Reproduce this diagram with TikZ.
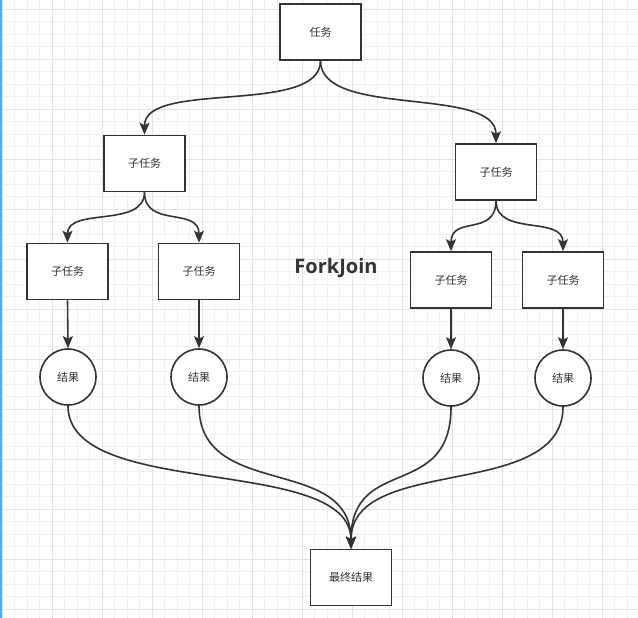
\documentclass[tikz,border=0pt]{standalone}
\usepackage{fontspec}
\newfontfamily\cjk{Noto Sans CJK SC}
\newfontfamily\titlefont{Open Sans}
\usepackage{tikz}
\usetikzlibrary{arrows.meta,positioning,calc}
\usepackage{xcolor}
\definecolor{ink}{HTML}{333333}
\definecolor{gridminor}{HTML}{F1F1F1}
\definecolor{gridmajor}{HTML}{E3E3E3}
\definecolor{edgeblue}{HTML}{5AA9E6}
\tikzset{
  block/.style   = {draw=ink, fill=white, line width=1.6pt, rectangle, minimum width=81pt,
                    minimum height=56pt, align=center, text=ink,
                    font=\cjk\fontsize{11}{13}\selectfont},
  resnode/.style = {draw=ink, fill=white, line width=1.6pt, circle, inner sep=0pt,
                    minimum size=56pt, text=ink, font=\cjk\fontsize{11}{13}\selectfont},
  sig/.style     = {-{Stealth[length=12pt,width=10pt,inset=2.5pt]}, line width=1.6pt, draw=ink},
}

\begin{document}
\begin{tikzpicture}[x=1pt,y=-1pt]
\useasboundingbox (0,0) rectangle (638,618);
\fill[white] (0,0) rectangle (638,618);
% background grid
\foreach \x in {2,14.5,...,638} \draw[gridminor, line width=0.8pt] (\x,0) -- (\x,618);
\foreach \y in {9,21.5,...,618} \draw[gridminor, line width=0.8pt] (0,\y) -- (638,\y);
\foreach \x in {2,52,...,638} \draw[gridmajor, line width=0.8pt] (\x,0) -- (\x,618);
\foreach \y in {9,59,...,618} \draw[gridmajor, line width=0.8pt] (0,\y) -- (638,\y);
\draw[edgeblue, line width=1.5pt] (0.75,0) -- (0.75,618);

\node[block] (task) at (320.5,32) {任务};
\node[block] (sub1) at (144.5,163.5) {子任务};
\node[block] (sub2) at (496,172) {子任务};
\node[block] (s11) at (67.5,271.5) {子任务};
\node[block] (s12) at (199,271.5) {子任务};
\node[block] (s21) at (451,280) {子任务};
\node[block] (s22) at (563,280) {子任务};
\node[resnode] (r11) at (68,377) {结果};
\node[resnode] (r12) at (199,377) {结果};
\node[resnode] (r21) at (451,378) {结果};
\node[resnode] (r22) at (563,378) {结果};
\node[block] (fin) at (351,577.5) {最终结果};
\node[text=ink, font=\titlefont\bfseries\fontsize{20}{24}\selectfont] (title) at (336,268) {ForkJoin};

\draw[sig] (task.south) .. controls +(0,55) and +(0,-55) .. (sub1.north);
\draw[sig] (task.south) .. controls +(0,58) and +(0,-58) .. (sub2.north);
\draw[sig] (sub1.south) .. controls +(0,36) and +(0,-36) .. (s11.north);
\draw[sig] (sub1.south) .. controls +(0,36) and +(0,-36) .. (s12.north);
\draw[sig] (sub2.south) .. controls +(0,36) and +(0,-36) .. (s21.north);
\draw[sig] (sub2.south) .. controls +(0,36) and +(0,-36) .. (s22.north);
\foreach \a/\b in {s11/r11,s12/r12,s21/r21,s22/r22}
  \draw[sig] (\a.south) -- (\b.north);
\foreach \r in {r11,r12,r21,r22}
  \draw[sig] (\r.south) .. controls +(0,95) and +(0,-95) .. (fin.north);
\end{tikzpicture}
\end{document}
